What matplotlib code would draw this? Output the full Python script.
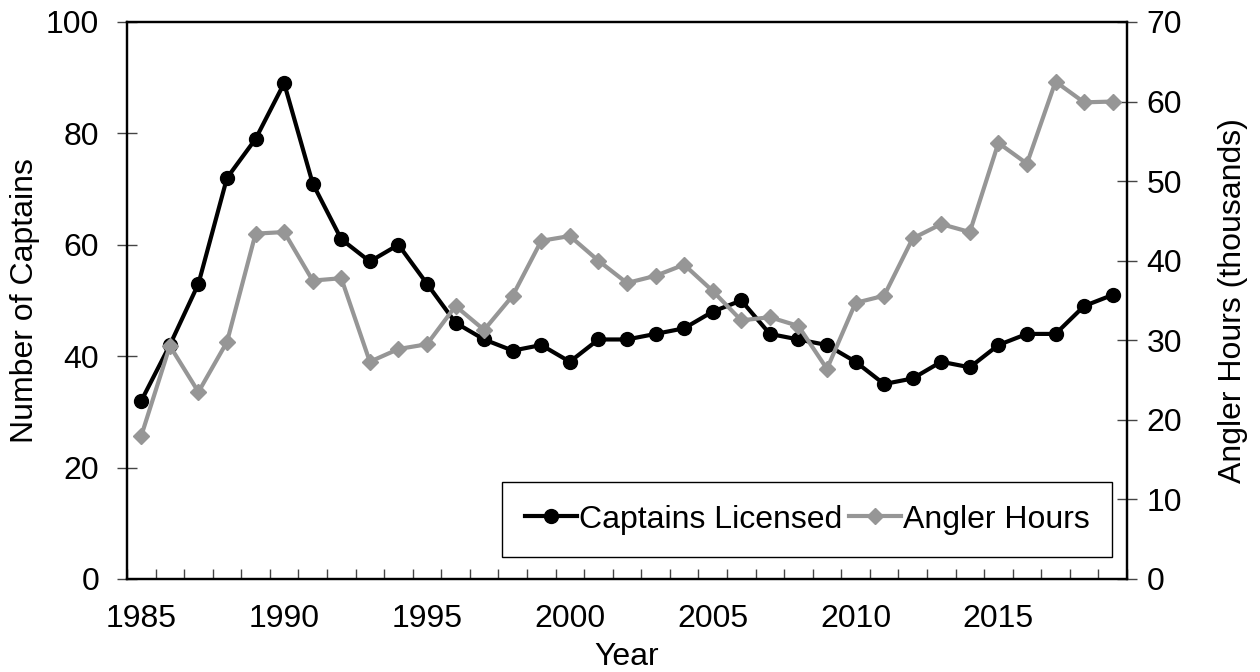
import numpy as np
import matplotlib.pyplot as plt

plt.rcParams['font.family'] = ['Liberation Sans', 'DejaVu Sans']

years = list(range(1985, 2020))
captains = [32, 42, 53, 72, 79, 89, 71, 61, 57, 60,
            53, 46, 43, 41, 42, 39, 43, 43, 44, 45,
            48, 50, 44, 43, 42, 39, 35, 36, 39, 38,
            42, 44, 44, 49, 51]
angler_hours = [18.0, 29.3, 23.5, 29.8, 43.4, 43.6, 37.5, 37.8, 27.3, 28.9,
                29.5, 34.3, 31.3, 35.6, 42.5, 43.1, 40.0, 37.2, 38.1, 39.5,
                36.2, 32.5, 32.9, 31.8, 26.4, 34.7, 35.6, 42.8, 44.6, 43.6,
                54.8, 52.2, 62.5, 59.9, 60.0]
label_years = [1985, 1990, 1995, 2000, 2005, 2010, 2015]

fs = 23
fig = plt.figure(figsize=(12.6, 6.72), dpi=100)
ax = fig.add_axes([0.1008, 0.1384, 0.7936, 0.8289])
ax2 = ax.twinx()

l1, = ax.plot(years, captains, color='black', lw=3, marker='o', ms=10,
              label='Captains Licensed', zorder=3)
l2, = ax2.plot(years, angler_hours, color='#969696', lw=3, marker='D', ms=8.5,
               label='Angler Hours', zorder=3)

ax.set_xlim(1984.5, 2019.5)
ax.set_ylim(0, 100)
ax2.set_ylim(0, 70)
ax.set_yticks(range(0, 101, 20))
ax2.set_yticks(range(0, 71, 10))

# category-style x axis: ticks between years, labels on years
ax.set_xticks(np.arange(1984.5, 2020, 1.0))
ax.set_xticklabels([])
ax.set_xticks(label_years, minor=True)
ax.set_xticklabels([str(y) for y in label_years], minor=True)
ax.tick_params(axis='x', which='major', direction='in', length=7, width=1, color='#444444')
ax.tick_params(axis='x', which='minor', length=0, pad=18, labelsize=fs)

ax.tick_params(axis='y', direction='inout', length=14, width=1, color='#444444',
               labelsize=fs, pad=13)
ax2.tick_params(axis='y', direction='inout', length=14, width=1, color='#444444',
                labelsize=fs, pad=7)

for a in (ax, ax2):
    for s in a.spines.values():
        s.set_linewidth(1.6)
        s.set_color('black')

ax.set_xlabel('Year', fontsize=fs, labelpad=6)
ax.set_ylabel('Number of Captains', fontsize=fs, labelpad=4)
ax2.set_ylabel('Angler Hours (thousands)', fontsize=fs, labelpad=26)

leg = ax2.legend(handles=[l1, l2], loc='lower right', bbox_to_anchor=(0.985, 0.0395),
                 ncol=2, fontsize=fs, fancybox=False, framealpha=1,
                 edgecolor='black', handlelength=1.65, handletextpad=0.05,
                 columnspacing=0.2, borderpad=0.7, borderaxespad=0)
leg.get_frame().set_linewidth(1)

fig.savefig('out.png', dpi=100)
